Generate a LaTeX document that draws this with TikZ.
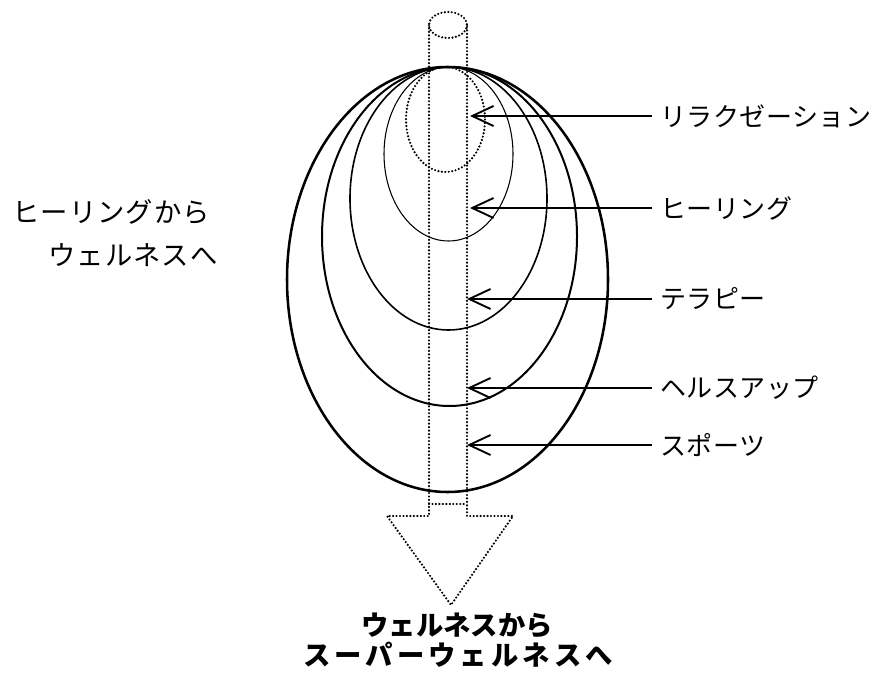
\documentclass[tikz,border=0pt]{standalone}
\usepackage{fontspec}
\newfontfamily\jp{Noto Sans CJK JP}
\usetikzlibrary{arrows.meta}
\begin{document}
\begin{tikzpicture}[x=0.75pt,y=-0.75pt,
  lab/.style={font=\jp\addfontfeatures{LetterSpace=2}\fontsize{19.5}{22}\selectfont, inner ysep=0pt, inner xsep=6pt, anchor=west},
  side/.style={font=\jp\addfontfeatures{LetterSpace=4}\fontsize{20.5}{22}\selectfont, inner sep=0pt, anchor=west},
  bot/.style={font=\jp\bfseries\fontsize{20.5}{22}\selectfont, inner sep=0pt},
  botwide/.style={font=\jp\bfseries\addfontfeatures{LetterSpace=15}\fontsize{20.5}{22}\selectfont, inner sep=0pt},
  ptr/.style={line width=1.4pt, -{Straight Barb[length=16pt,width=15pt,line width=1.4pt]}},
  dots/.style={line width=1.8pt, line cap=round, dash pattern=on 0pt off 2.6pt},
]
\useasboundingbox (0,0) rectangle (877,684);
% nested ellipses
\draw[line width=1.9pt] (447.5,279.5) ellipse [x radius=160.5, y radius=212.5];
\draw[line width=1.5pt] (449.5,236.5) ellipse [x radius=127.5, y radius=169.5];
\draw[line width=1.2pt] (448.5,198.5) ellipse [x radius=98.5, y radius=131.5];
\draw[line width=0.8pt] (448.5,154) ellipse [x radius=64.5, y radius=87];
\draw[dots] (445.5,119.5) ellipse [x radius=39.5, y radius=52.5];
% pipe
\draw[dots] (448,25) ellipse [x radius=19, y radius=13];
\draw[dots] (429,25) -- (429,516) -- (387,516) -- (451,605) -- (513,516) -- (467,516) -- (467,25);
\draw[dots] (429,504) -- (467,504);
% tips
\coordinate (t1) at (470,116);
\coordinate (t2) at (470,208);
\coordinate (t3) at (467,299);
\coordinate (t4) at (467,388);
\coordinate (t5) at (467,445);
% labels
\node[lab] (l1) at (652,116) {リラクゼーション};
\node[lab] (l2) at (652,208) {ヒーリング};
\node[lab] (l3) at (652,299) {テラピー};
\node[lab] (l4) at (652,388) {ヘルスアップ};
\node[lab] (l5) at (652,445) {スポーツ};
\draw[ptr] (l1.west) -- (t1);
\draw[ptr] (l2.west) -- (t2);
\draw[ptr] (l3.west) -- (t3);
\draw[ptr] (l4.west) -- (t4);
\draw[ptr] (l5.west) -- (t5);
% side text
\node[side] (s1) at (12,212) {ヒーリングから};
\node[side] (s2) at (48,255) {ウェルネスへ};
% bottom text
\node[bot] (b1) at (457,626) {ウェルネスから};
\node[botwide] (b2) at (458,655) {スーパーウェルネスへ};
\end{tikzpicture}
\end{document}
